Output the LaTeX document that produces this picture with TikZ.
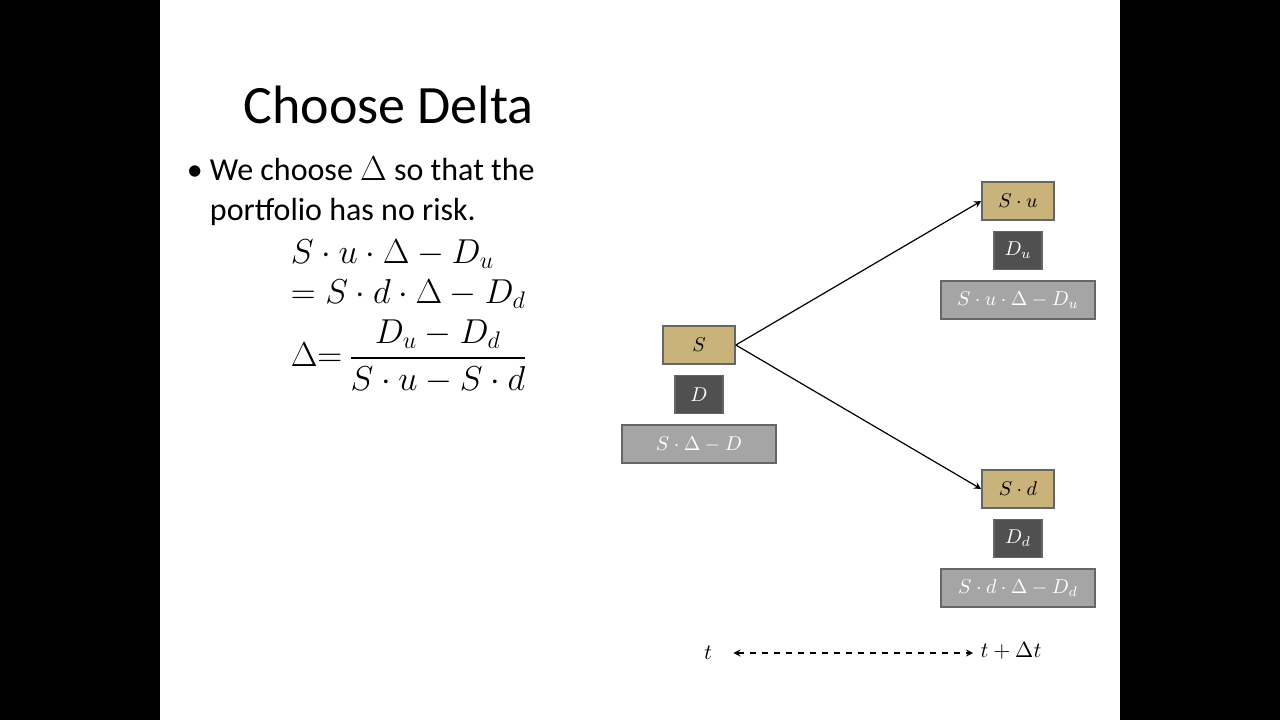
\documentclass[tikz,border=0pt]{standalone}
\usepackage{amsmath}
\usepackage{fontspec}
\setmainfont{Carlito}
\usetikzlibrary{positioning}
\definecolor{stock}{RGB}{201,179,122}
\definecolor{deriv}{RGB}{80,80,80}
\definecolor{port}{RGB}{165,165,165}
\begin{document}
\begin{tikzpicture}[x=0.5pt,y=-0.5pt,thick]

    % `sbox' is the stock, `dbox' the derivative, `pbox' the portfolio.
    \tikzstyle{sbox} = [draw=black!60,fill=stock,minimum width=36pt,minimum height=19pt,inner sep=0pt,font=\fontsize{10}{12}\selectfont]
    \tikzstyle{dbox} = [draw=black!60,fill=deriv,text=white,minimum width=24pt,minimum height=19pt,inner sep=0pt,font=\fontsize{10}{12}\selectfont]
    \tikzstyle{pbox} = [draw=black!60,fill=port,text=white,minimum width=77pt,minimum height=19pt,inner sep=0pt,font=\fontsize{10}{12}\selectfont]
    %
    \fill[black] (0,0) rectangle (1280,720);
    \fill[white] (160,0) rectangle (1120,720);

    % Text.
    \node[anchor=base west,font=\fontsize{27}{32}\selectfont] (title) at (236,123) {Choose Delta};
    \node[anchor=north west,align=left,font=\fontsize{16}{20}\selectfont,inner sep=0pt] (bullet) at (186,156)
      {\textbullet\ We choose $\Delta$ so that the\\
       \hphantom{\textbullet\ }portfolio has no risk.};
    \node[anchor=north west,inner sep=0pt,font=\fontsize{17}{20}\selectfont] (eq) at (290,235)
      {$\begin{array}{@{}l@{}}
        S\cdot u\cdot \Delta - D_u\\
        = S\cdot d\cdot \Delta - D_d\\[2pt]
        \Delta{=}\,\dfrac{D_u-D_d}{S\cdot u - S\cdot d}
      \end{array}$};

    % Tree.
    \node[sbox] (S) at (699,345) {$S$};
    \node[dbox,below=5pt of S] (D) {$D$};
    \node[pbox,below=5pt of D] (P) {$S\cdot\Delta-D$};

    \node[sbox] (Su) at (1018,201) {$S\cdot u$};
    \node[dbox,below=5pt of Su] (Du) {$D_u$};
    \node[pbox,below=5pt of Du] (Pu) {$S\cdot u\cdot\Delta-D_u$};

    \node[sbox] (Sd) at (1018,489) {$S\cdot d$};
    \node[dbox,below=5pt of Sd] (Dd) {$D_d$};
    \node[pbox,below=5pt of Dd] (Pd) {$S\cdot d\cdot\Delta-D_d$};

    \draw[-stealth,semithick] (S.east) -- (Su.west);
    \draw[-stealth,semithick] (S.east) -- (Sd.west);

    % Time axis.
    \node[font=\fontsize{11}{13}\selectfont] (t0) at (708,653) {$t$};
    \node[font=\fontsize{11}{13}\selectfont] (t1) at (1011,651) {$t+\Delta t$};
    \draw[stealth-stealth,dashed,semithick] (t0.east) ++(14,0) coordinate (a) -- (a -| t1.west);
\end{tikzpicture}
\end{document}
